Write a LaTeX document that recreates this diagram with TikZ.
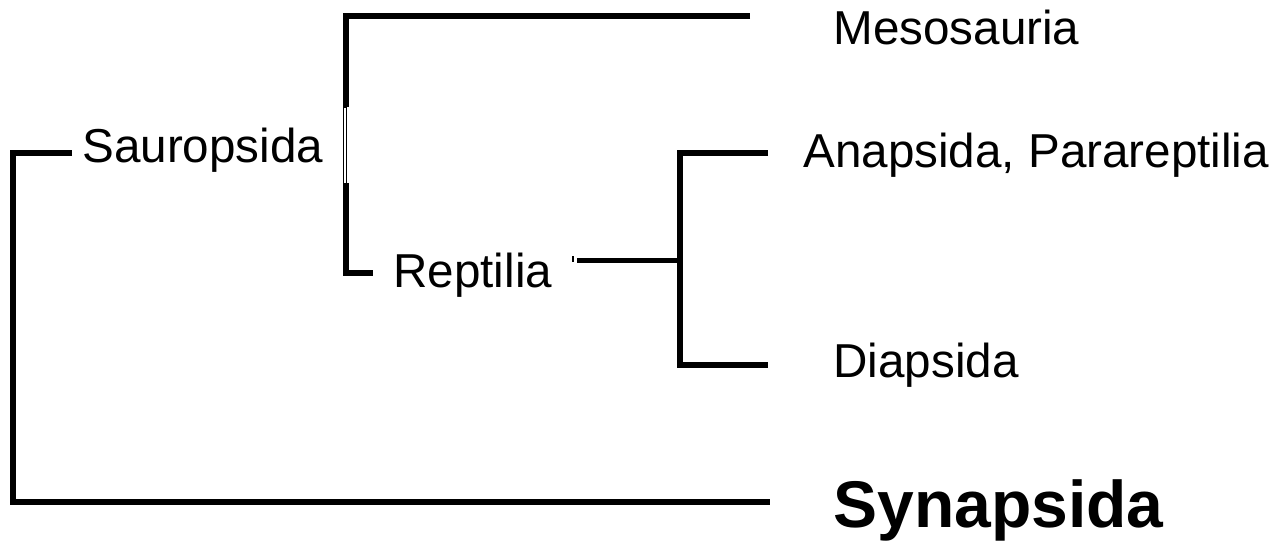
\documentclass[tikz,border=0pt]{standalone}
\usepackage{fontspec}
\setmainfont{Liberation Sans}
\begin{document}
\begin{tikzpicture}[x=0.5pt,y=-0.5pt,
  branch/.style={line width=2.6pt, line join=miter},
  taxon/.style={anchor=base west, inner sep=0pt, font=\fontsize{23.8pt}{28pt}\selectfont},
  bigtaxon/.style={anchor=base west, inner sep=0pt, font=\fontsize{33pt}{40pt}\selectfont\bfseries}]
\useasboundingbox (0,0) rectangle (1277,544);
% labels
\node[taxon] (sau) at (82,163) {Sauropsida};
\node[taxon] (meso) at (833,45) {Mesosauria};
\node[taxon] (rep) at (393,288) {Reptilia};
\node[taxon] (ana) at (803,168) {Anapsida, Parareptilia};
\node[taxon] (dia) at (833,378) {Diapsida};
\node[bigtaxon] (syn) at (833,527) {Synapsida};
% branch points
\coordinate (sauend) at (72,153);
\coordinate (rtop) at (13,153);
\coordinate (rbot) at (13,502);
\coordinate (synend) at (770,502);
\coordinate (stop) at (346,16);
\coordinate (mesoend) at (750,16);
\coordinate (sbot) at (346,273);
\coordinate (repend) at (373,273);
\coordinate (repstart) at (577,260.5);
\coordinate (rmid) at (680,260.5);
\coordinate (rtop2) at (680,153);
\coordinate (rbot2) at (680,365);
\coordinate (anaend) at (768,153);
\coordinate (diaend) at (768,365);
% branches
\draw[branch] (sauend) -- (rtop) -- (rbot) -- (synend);
\draw[branch] (mesoend) -- (stop) -- (sbot) -- (repend);
\draw[branch] (anaend) -- (rtop2) -- (rbot2) -- (diaend);
\draw[branch] (repstart) -- (rmid);
% small artefacts
\fill[white] (342,107) rectangle (350,183);
\draw[line width=0.35pt] (343.5,107) rectangle (346.5,183);
\draw[line width=1pt] (573,256.5) -- (573,262);
\end{tikzpicture}
\end{document}
